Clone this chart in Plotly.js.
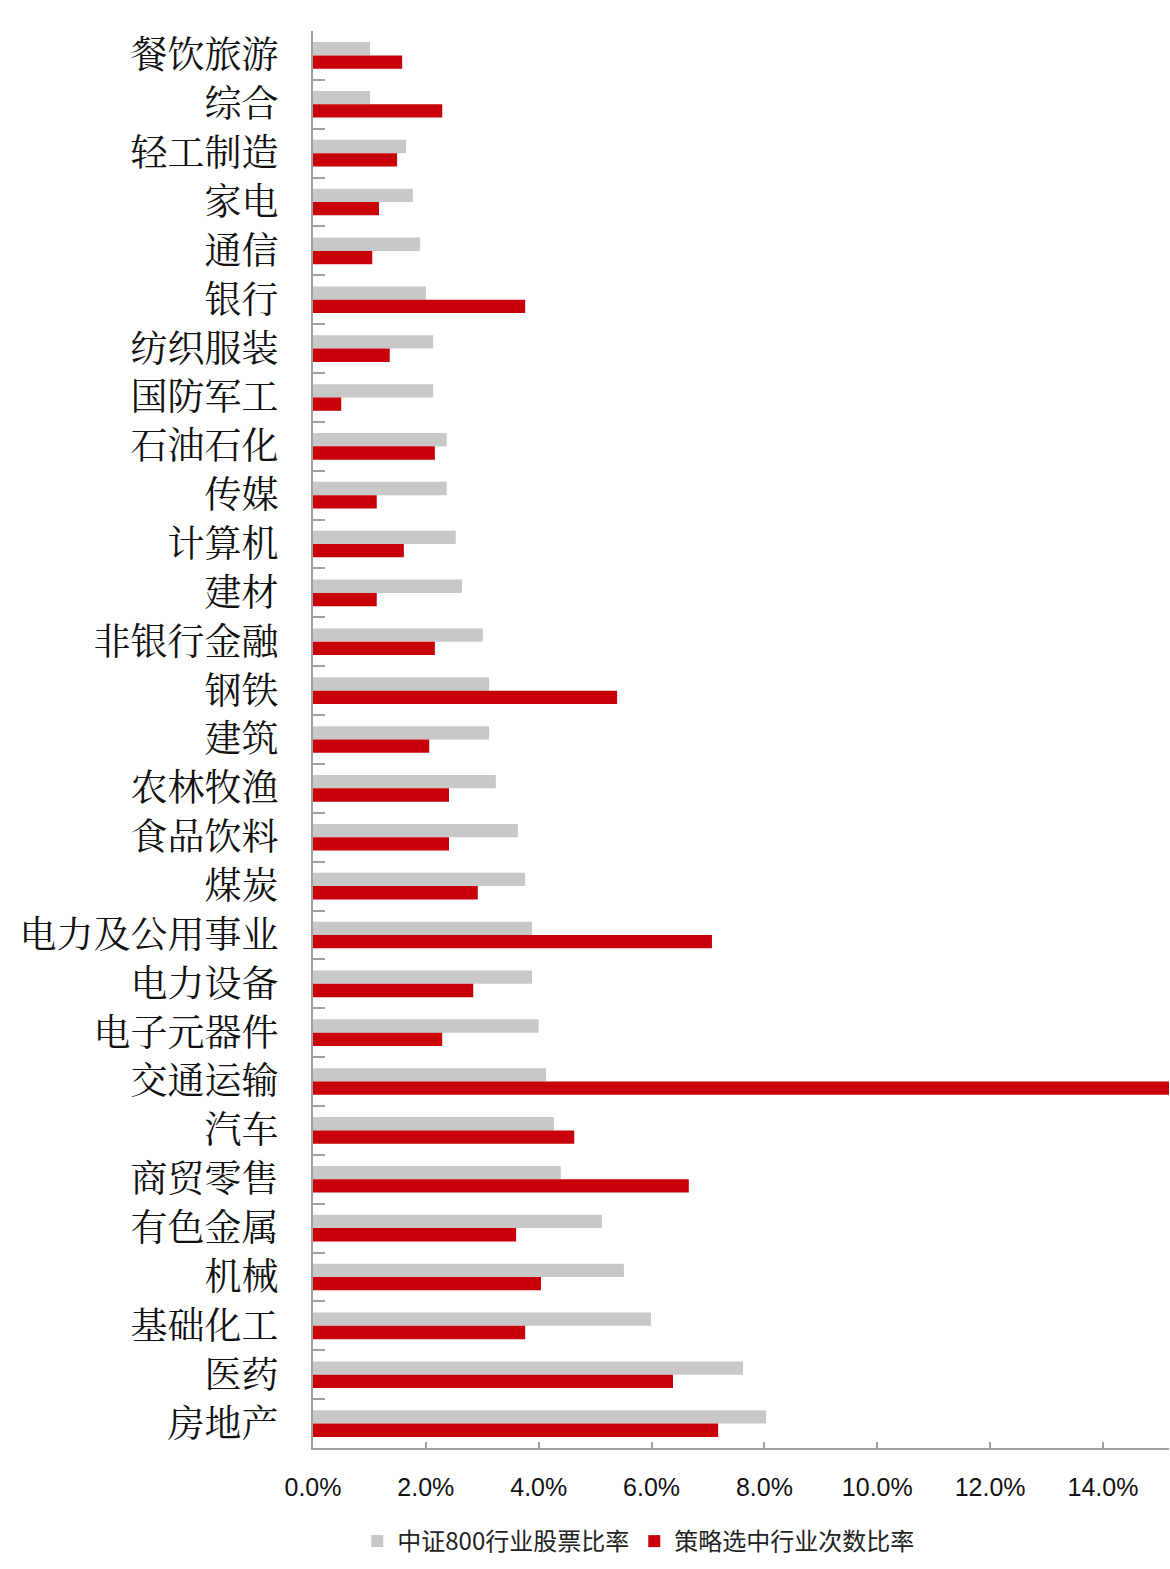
<!DOCTYPE html>
<html>
<head>
<meta charset="utf-8">
<script src="https://cdn.plot.ly/plotly-3.0.1.min.js"></script>
<style>
html,body{margin:0;padding:0;background:#fff;}
#chart{width:1170px;height:1569px;}
</style>
</head>
<body>
<div id="chart"></div>
<script>
var categories = ["餐饮旅游","综合","轻工制造","家电","通信","银行","纺织服装","国防军工","石油石化","传媒","计算机","建材","非银行金融","钢铁","建筑","农林牧渔","食品饮料","煤炭","电力及公用事业","电力设备","电子元器件","交通运输","汽车","商贸零售","有色金属","机械","基础化工","医药","房地产"];
var csi800Ratio = [1.01,1.01,1.65,1.77,1.90,2.00,2.13,2.13,2.37,2.37,2.53,2.64,3.01,3.12,3.12,3.24,3.63,3.76,3.88,3.88,4.00,4.13,4.27,4.39,5.12,5.51,5.99,7.62,8.03];
var strategyRatio = [1.58,2.29,1.49,1.17,1.05,3.76,1.36,0.50,2.16,1.13,1.61,1.13,2.16,5.39,2.06,2.41,2.41,2.92,7.07,2.84,2.29,15.5,4.63,6.66,3.60,4.04,3.76,6.38,7.18];
var seriesNames = ["中证800行业股票比率","策略选中行业次数比率"];
var xTickVals = [0,2,4,6,8,10,12,14];
var xTickText = ["0.0%","2.0%","4.0%","6.0%","8.0%","10.0%","12.0%","14.0%"];

var data = [
  {type:"bar", orientation:"h", name:seriesNames[0], y:categories, x:csi800Ratio,
   marker:{color:"#c8c8c8"}, hoverinfo:"x+y"},
  {type:"bar", orientation:"h", name:seriesNames[1], y:categories, x:strategyRatio,
   marker:{color:"#c8000a"}, hoverinfo:"x+y"}
];

var layout = {
  width:1170, height:1569,
  margin:{l:313, r:1, t:31, b:121},
  paper_bgcolor:"#fff", plot_bgcolor:"#fff",
  barmode:"group", bargap:0.455, bargroupgap:0,
  showlegend:true,
  legend:{orientation:"h", x:0.38, xanchor:"center", y:-0.066, yanchor:"middle",
    font:{family:"Noto Sans CJK SC, Liberation Sans Narrow, sans-serif", size:24, color:"#222"},
    itemwidth:30, traceorder:"normal"},
  xaxis:{range:[0,15.17], tickvals:xTickVals, ticktext:xTickText,
    showgrid:false, zeroline:false, showline:true, linecolor:"#a0a0a0", linewidth:2,
    ticks:"inside", ticklen:6, tickwidth:2, tickcolor:"#a0a0a0",
    ticklabelstandoff:16,
    tickfont:{family:"Liberation Sans Narrow, Liberation Sans, sans-serif", size:25, color:"#111"}},
  yaxis:{type:"category", autorange:"reversed", showgrid:false, zeroline:false,
    showline:true, linecolor:"#a0a0a0", linewidth:2,
    ticks:"inside", tickson:"boundaries", ticklen:12, tickwidth:2, tickcolor:"#a0a0a0",
    ticklabelstandoff:25,
    tickfont:{family:"Noto Serif CJK SC, Noto Sans CJK SC, sans-serif", size:37, color:"#111"}}
};

Plotly.newPlot("chart", data, layout, {displayModeBar:false, staticPlot:true});
</script>
</body>
</html>
